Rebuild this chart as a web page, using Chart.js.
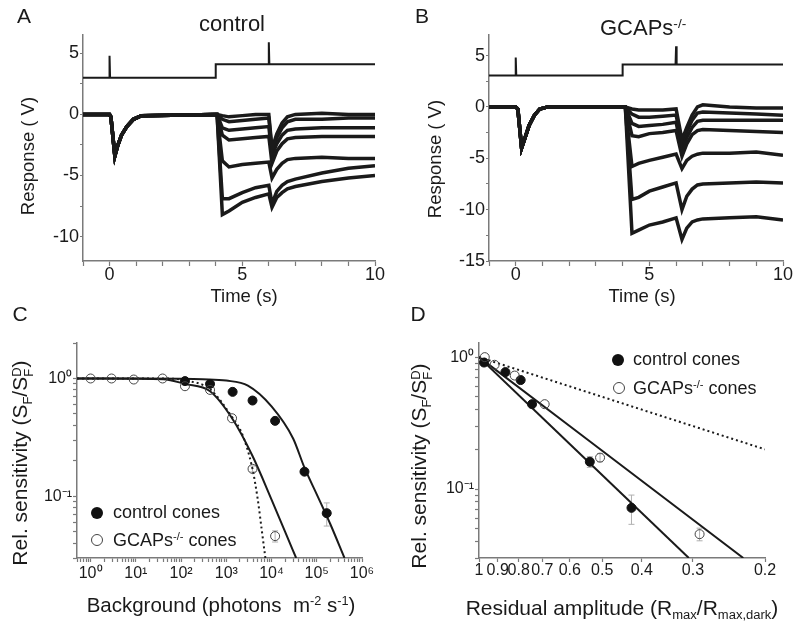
<!DOCTYPE html>
<html>
<head>
<meta charset="utf-8">
<script src="https://cdn.jsdelivr.net/npm/chart.js@4.4.0/dist/chart.umd.min.js"></script>
<style>
body { margin: 0; background: #fff; }
#wrap { position: relative; width: 800px; height: 631px; overflow: hidden; font-family: "Liberation Sans", Arial, sans-serif; color: #1a1a1a; }
#wrap canvas { position: absolute; left: 0; top: 0; }
.lbl { position: absolute; white-space: pre; line-height: 1; transform: translate(-50%, -50%); }
.lft { transform: translate(0, -50%); }
.rot { transform: translate(-50%, -50%) rotate(-90deg); }
sup { font-size: 62%; vertical-align: 0.55em; line-height: 0; }
sub { font-size: 62%; vertical-align: -0.35em; line-height: 0; }
.stk { display: inline-block; font-size: 62%; line-height: 0.9; vertical-align: -0.45em; }
.dot { position: absolute; width: 12px; height: 12px; border-radius: 50%; transform: translate(-50%, -50%); box-sizing: border-box; }
</style>
</head>
<body>
<div id="wrap">
  <canvas id="cA" width="800" height="631"></canvas>
  <canvas id="cB" width="800" height="631"></canvas>
  <canvas id="cC" width="800" height="631"></canvas>
  <canvas id="cD" width="800" height="631"></canvas>

  <div class="lbl" style="left:24px;top:15px;font-size:21px">A</div>
  <div class="lbl" style="left:422px;top:15px;font-size:21px">B</div>
  <div class="lbl" style="left:20px;top:313px;font-size:21px">C</div>
  <div class="lbl" style="left:418px;top:313px;font-size:21px">D</div>

  <div class="lbl" style="left:232px;top:24px;font-size:22px">control</div>
  <div class="lbl lft" style="left:600px;top:28px;font-size:22px">GCAPs<sup>-/-</sup></div>

  <div class="lbl rot" style="left:28px;top:156px;font-size:18.5px">Response ( V)</div>
  <div class="lbl rot" style="left:435px;top:159px;font-size:18.5px">Response ( V)</div>
  <div class="lbl" style="left:244px;top:296px;font-size:18.5px">Time (s)</div>
  <div class="lbl" style="left:642px;top:296px;font-size:18.5px">Time (s)</div>

  <div class="lbl rot" style="left:22px;top:463px;font-size:21px">Rel. sensitivity (S<sub>F</sub>/S<span class="stk">D<br>F</span>)</div>
  <div class="lbl rot" style="left:421px;top:466px;font-size:21px">Rel. sensitivity (S<sub>F</sub>/S<span class="stk">D<br>F</span>)</div>
  <div class="lbl" style="left:221px;top:605px;font-size:20.5px">Background (photons  m<sup>-2</sup> s<sup>-1</sup>)</div>
  <div class="lbl" style="left:622px;top:607px;font-size:21px">Residual amplitude (R<sub>max</sub>/R<sub>max,dark</sub>)</div>

  <div class="dot" style="left:97px;top:513px;background:#111"></div>
  <div class="lbl lft" style="left:113px;top:512px;font-size:18px">control cones</div>
  <div class="dot" style="left:97px;top:540px;border:1px solid #444"></div>
  <div class="lbl lft" style="left:113px;top:540px;font-size:18px">GCAPs<sup>-/-</sup> cones</div>

  <div class="dot" style="left:618px;top:360px;background:#111"></div>
  <div class="lbl lft" style="left:633px;top:359px;font-size:18px">control cones</div>
  <div class="dot" style="left:619px;top:388px;border:1px solid #444"></div>
  <div class="lbl lft" style="left:633px;top:388px;font-size:18px">GCAPs<sup>-/-</sup> cones</div>
</div>

<script>
// ---- panel A: control cone responses ----
const tA = [-1, 0, 0.05, 0.2, 0.3, 0.45, 0.65, 0.9, 1.2, 4, 4.05, 4.25, 4.5, 5, 5.5, 6, 6.12, 6.3, 6.5, 6.7, 7, 8, 9, 10];
const aFlash = [0, 0, -0.2, -3.4, -2.6, -1.7, -1.0, -0.4, -0.1, 0];
const aStep1 = [0, -0.1, -0.2, -0.1, 0, 0, -2.8, -1.6, -0.7, -0.2, 0, 0.1, 0, 0];
const aStep2 = [0, -0.4, -0.6, -0.5, -0.4, -0.3, -3.0, -1.9, -1.1, -0.6, -0.4, -0.4, -0.3, -0.3];
const aStep3 = [0, -1.1, -1.3, -1.2, -1.1, -1.0, -3.4, -2.4, -1.7, -1.3, -1.2, -1.1, -1.1, -1.1];
const aStep4 = [0, -1.7, -2.1, -2.0, -1.9, -1.8, -4.0, -3.0, -2.4, -2.0, -1.9, -1.8, -1.8, -1.8];
const aStep5 = [0, -3.8, -4.3, -4.1, -4.0, -3.9, -5.2, -4.5, -4.0, -3.7, -3.6, -3.5, -3.6, -3.6];
const aStep6 = [0, -6.9, -6.9, -6.4, -6.0, -5.8, -7.3, -6.3, -5.8, -5.5, -5.3, -4.8, -4.4, -4.2];
const aStep7 = [0, -8.2, -7.9, -7.2, -6.8, -6.5, -7.6, -6.8, -6.4, -6.1, -5.9, -5.5, -5.2, -5.0];
const stimTA = [-1, -0.02, 0, 0.02, 4, 4, 5.98, 6, 6.02, 10];
const stimVA = [3, 3, 4.8, 3, 3, 4.1, 4.1, 5.9, 4.1, 4.1];
const aYTicks = [-10, -7.5, -5, -2.5, 0, 2.5, 5];

// ---- panel B: GCAPs-/- cone responses ----
const tB = [-1, 0, 0.08, 0.22, 0.35, 0.5, 0.7, 0.9, 1.2, 4, 4.1, 4.35, 4.6, 5, 5.5, 6, 6.22, 6.4, 6.6, 6.8, 7, 8, 9, 10];
const bFlash = [0, 0, -0.2, -4.0, -3.0, -1.8, -0.8, -0.2, 0, 0];
const bStep1 = [0, -0.2, -0.3, -0.3, -0.3, -0.2, -3.2, -2.0, -0.8, 0, 0.2, 0, -0.1, -0.1];
const bStep2 = [0, -0.7, -1.0, -1.0, -0.9, -0.8, -3.6, -2.4, -1.3, -0.6, -0.5, -0.6, -0.7, -0.8];
const bStep3 = [0, -1.6, -1.9, -1.8, -1.7, -1.5, -4.2, -3.0, -2.0, -1.4, -1.3, -1.3, -1.3, -1.3];
const bStep4 = [0, -2.8, -2.9, -2.6, -2.5, -2.3, -4.8, -3.6, -2.7, -2.3, -2.2, -2.3, -2.4, -2.5];
const bStep5 = [0, -5.8, -5.5, -5.2, -4.9, -4.6, -6.0, -5.2, -4.8, -4.6, -4.5, -4.5, -4.4, -4.7];
const bStep6 = [0, -9.0, -8.8, -8.2, -7.8, -7.4, -10.0, -8.7, -8.0, -7.6, -7.5, -7.4, -7.3, -7.4];
const bStep7 = [0, -12.3, -12.0, -11.5, -11.2, -10.8, -12.9, -11.8, -11.2, -11.0, -10.9, -10.8, -10.7, -11.0];
const stimTB = [-1, -0.02, 0, 0.02, 4, 4, 5.98, 6, 6.02, 10];
const stimVB = [3.05, 3.05, 4.8, 3.05, 3.05, 4.12, 4.12, 5.9, 4.12, 4.12];
const bYTicks = [-15, -12.5, -10, -7.5, -5, -2.5, 0, 2.5, 5];

// ---- panel C: sensitivity vs background ----
const cCtrlX = [122, 437, 1380, 3800, 12000, 53500, 166000];
const cCtrlY = [0.95, 0.90, 0.77, 0.65, 0.437, 0.162, 0.072];
const cCtrlErr = [0, 0, 0, 0, 0.02, 0.01, 0.016];
const cGcapX = [1, 2.9, 9, 39, 122, 437, 1340, 3800, 12000];
const cGcapY = [1.0, 1.0, 0.98, 1.0, 0.86, 0.80, 0.46, 0.171, 0.046];
const cGcapErr = [0, 0, 0, 0, 0, 0, 0, 0.01, 0.005];
const cCtrlFitX = [0.5, 10, 100, 300, 1000, 3000, 10000, 30000, 53500, 100000, 200000, 410000];
const cCtrlFitY = [1, 1, 0.995, 0.985, 0.96, 0.87, 0.58, 0.31, 0.175, 0.104, 0.058, 0.03];
const cGcapFitX = [0.5, 10, 40, 122, 437, 1340, 3800, 10000, 20000, 35000];
const cGcapFitY = [1, 0.995, 0.985, 0.9, 0.78, 0.46, 0.22, 0.094, 0.05, 0.03];
const cDotX = [0.5, 39, 128, 437, 1340, 2300, 3800, 4940, 6150, 7300];
const cDotY = [1, 1, 0.96, 0.81, 0.47, 0.33, 0.17, 0.095, 0.05, 0.03];
const cXMajor = [1, 10, 100, 1e3, 1e4, 1e5, 1e6];
const cXLabels = ['10⁰', '10¹', '10²', '10³', '10⁴', '10⁵', '10⁶'];
const cYMajor = [0.1, 1];
const cYLabels = ['10⁻¹', '10⁰'];

// ---- panel D: sensitivity vs residual amplitude ----
const dCtrlX = [0.972, 0.862, 0.791, 0.742, 0.536, 0.424];
const dCtrlY = [0.91, 0.77, 0.67, 0.44, 0.161, 0.072];
const dCtrlErr = [0, 0, 0, 0, 0.015, 0.018];
const dGcapX = [0.968, 0.916, 0.818, 0.691, 0.506, 0.289];
const dGcapY = [1.0, 0.875, 0.725, 0.44, 0.173, 0.0455];
const dGcapErr = [0, 0, 0, 0, 0.012, 0.005];
const dCtrlLineX = [1, 0.307];
const dCtrlLineY = [1, 0.03];
const dGcapLineX = [1, 0.226];
const dGcapLineY = [1, 0.03];
const dDotX = [1, 0.2];
const dDotY = [1, 0.2];
const dXTicks = [1, 0.9, 0.8, 0.7, 0.6, 0.5, 0.4, 0.3, 0.2];
const dXLabels = ['1', '0.9', '0.8', '0.7', '0.6', '0.5', '0.4', '0.3', '0.2'];

const W = 800, H = 631;
const FONT = "'Liberation Sans', Arial, sans-serif";
const INK = '#1a1a1a', AXIS = '#7a7a7a';

const pts = (xs, ys) => xs.map((x, i) => ({ x: x, y: ys[i] }));

function trace(ts, vs, width) {
    return { data: pts(ts, vs), borderColor: INK, borderWidth: width, pointRadius: 0, tension: 0, fill: false, order: 2 };
}
function curve(xs, ys, dash) {
    return { data: pts(xs, ys), borderColor: INK, borderWidth: 2, borderDash: dash || [], pointRadius: 0,
             cubicInterpolationMode: 'monotone', fill: false, order: 2 };
}
function marks(xs, ys, errs, filled) {
    return { data: pts(xs, ys), errors: errs, showLine: false, pointRadius: 4.5, pointStyle: 'circle',
             pointBackgroundColor: filled ? '#111' : 'rgba(0,0,0,0)', pointBorderColor: filled ? '#111' : '#444',
             pointBorderWidth: 1, order: 1 };
}

// minor ticks of a log axis, 1..9 x each decade
function logTicks(lo, hi) {
    const out = [];
    for (let e = Math.floor(Math.log10(lo)); e <= Math.ceil(Math.log10(hi)); e++) {
        for (let k = 1; k <= 9; k++) {
            const v = k * Math.pow(10, e);
            if (v >= lo * 0.999 && v <= hi * 1.001) out.push({ value: v });
        }
    }
    return out;
}
function labelFor(majors, labels) {
    return function (v) {
        const i = majors.findIndex(m => Math.abs(Math.log10(m) - Math.log10(v)) < 1e-6);
        return i >= 0 ? labels[i] : '';
    };
}

// error bars from the dataset's own errors list
const errorBars = {
    id: 'errorBars',
    beforeDatasetsDraw(chart) {
        const ctx = chart.ctx, ys = chart.scales.y;
        chart.data.datasets.forEach((ds, i) => {
            if (!ds.errors) return;
            const meta = chart.getDatasetMeta(i);
            ctx.save();
            ctx.strokeStyle = '#b0b0b0';
            ctx.lineWidth = 1;
            ds.data.forEach((p, j) => {
                const e = ds.errors[j];
                if (!e) return;
                const x = meta.data[j].x;
                const y1 = ys.getPixelForValue(p.y + e), y2 = ys.getPixelForValue(p.y - e);
                ctx.beginPath();
                ctx.moveTo(x, y1); ctx.lineTo(x, y2);
                ctx.moveTo(x - 3, y1); ctx.lineTo(x + 3, y1);
                ctx.moveTo(x - 3, y2); ctx.lineTo(x + 3, y2);
                ctx.stroke();
            });
            ctx.restore();
        });
    }
};

function axisStyle(size, pad, tickLen) {
    return {
        border: { display: true, color: AXIS, width: 1.5 },
        grid: { drawOnChartArea: false, drawTicks: true, tickLength: tickLen, tickColor: AXIS, tickWidth: 1.2 },
        ticks: { color: INK, font: { family: FONT, size: size, lineHeight: 1 }, padding: pad,
                 autoSkip: false, maxRotation: 0, minRotation: 0 }
    };
}

// area = [left, top, right, bottom] of the plot box
function makeChart(id, area, yW, xH, datasets, xs, ys) {
    xs.afterFit = s => { s.height = xH; };
    ys.afterFit = s => { s.width = yW; };
    return new Chart(document.getElementById(id), {
        type: 'line',
        data: { datasets: datasets },
        options: {
            responsive: false, animation: false, devicePixelRatio: 1,
            layout: { padding: { left: area[0] - yW, top: area[1], right: W - area[2], bottom: H - area[3] - xH } },
            plugins: { legend: { display: false }, tooltip: { enabled: false }, title: { display: false } },
            scales: { x: xs, y: ys }
        },
        plugins: [errorBars]
    });
}

function timeAxis() {
    const a = axisStyle(18, 0, 5);
    return Object.assign(a, {
        type: 'linear', min: -1, max: 10,
        afterBuildTicks: s => { s.ticks = [-1, 0, 1, 2, 3, 4, 5, 6, 7, 8, 9, 10].map(v => ({ value: v })); },
        ticks: Object.assign(a.ticks, { callback: v => (v % 5 === 0 ? String(v) : '') })
    });
}
function voltAxis(min, max, list) {
    const a = axisStyle(18, 1, 3);
    return Object.assign(a, {
        type: 'linear', min: min, max: max,
        afterBuildTicks: s => { s.ticks = list.map(v => ({ value: v })); },
        ticks: Object.assign(a.ticks, { callback: v => (v % 5 === 0 ? String(v) : '') })
    });
}

// A
makeChart('cA', [83, 35, 375, 261], 44, 30, [
    trace(stimTA, stimVA, 2),
    trace(tA, aFlash.concat(aStep1), 3.5),
    trace(tA, aFlash.concat(aStep2), 3.5),
    trace(tA, aFlash.concat(aStep3), 3.5),
    trace(tA, aFlash.concat(aStep4), 3.5),
    trace(tA, aFlash.concat(aStep5), 3.5),
    trace(tA, aFlash.concat(aStep6), 3.5),
    trace(tA, aFlash.concat(aStep7), 3.5)
], timeAxis(), voltAxis(-12, 6.5, aYTicks));

// B
makeChart('cB', [489, 35, 783, 261], 44, 30, [
    trace(stimTB, stimVB, 2),
    trace(tB, bFlash.concat(bStep1), 3.5),
    trace(tB, bFlash.concat(bStep2), 3.5),
    trace(tB, bFlash.concat(bStep3), 3.5),
    trace(tB, bFlash.concat(bStep4), 3.5),
    trace(tB, bFlash.concat(bStep5), 3.5),
    trace(tB, bFlash.concat(bStep6), 3.5),
    trace(tB, bFlash.concat(bStep7), 3.5)
], timeAxis(), voltAxis(-15, 7, bYTicks));

// C
(function () {
    const xa = axisStyle(16, 4, 4);
    Object.assign(xa, { type: 'logarithmic', min: 0.5, max: 1e6,
        afterBuildTicks: s => { s.ticks = logTicks(0.5, 1e6); } });
    xa.ticks.callback = labelFor(cXMajor, cXLabels);
    const ya = axisStyle(16, 1, 4);
    Object.assign(ya, { type: 'logarithmic', min: 0.03, max: 2,
        afterBuildTicks: s => { s.ticks = logTicks(0.03, 2); } });
    ya.ticks.callback = labelFor(cYMajor, cYLabels);
    makeChart('cC', [77, 343, 362, 558], 40, 30, [
        curve(cCtrlFitX, cCtrlFitY),
        curve(cGcapFitX, cGcapFitY),
        curve(cDotX, cDotY, [2, 3]),
        marks(cGcapX, cGcapY, cGcapErr, false),
        marks(cCtrlX, cCtrlY, cCtrlErr, true)
    ], xa, ya);
})();

// D
(function () {
    const xa = axisStyle(16, 1, 4);
    Object.assign(xa, { type: 'logarithmic', min: 0.2, max: 1, reverse: true,
        afterBuildTicks: s => { s.ticks = dXTicks.map(v => ({ value: v })); } });
    xa.ticks.callback = labelFor(dXTicks, dXLabels);
    const ya = axisStyle(16, 1, 4);
    Object.assign(ya, { type: 'logarithmic', min: 0.03, max: 1.28,
        afterBuildTicks: s => { s.ticks = logTicks(0.03, 1.28); } });
    ya.ticks.callback = labelFor(cYMajor, cYLabels);
    makeChart('cD', [479, 343, 765, 558], 40, 30, [
        curve(dCtrlLineX, dCtrlLineY),
        curve(dGcapLineX, dGcapLineY),
        curve(dDotX, dDotY, [2, 3]),
        marks(dGcapX, dGcapY, dGcapErr, false),
        marks(dCtrlX, dCtrlY, dCtrlErr, true)
    ], xa, ya);
})();
</script>
</body>
</html>
